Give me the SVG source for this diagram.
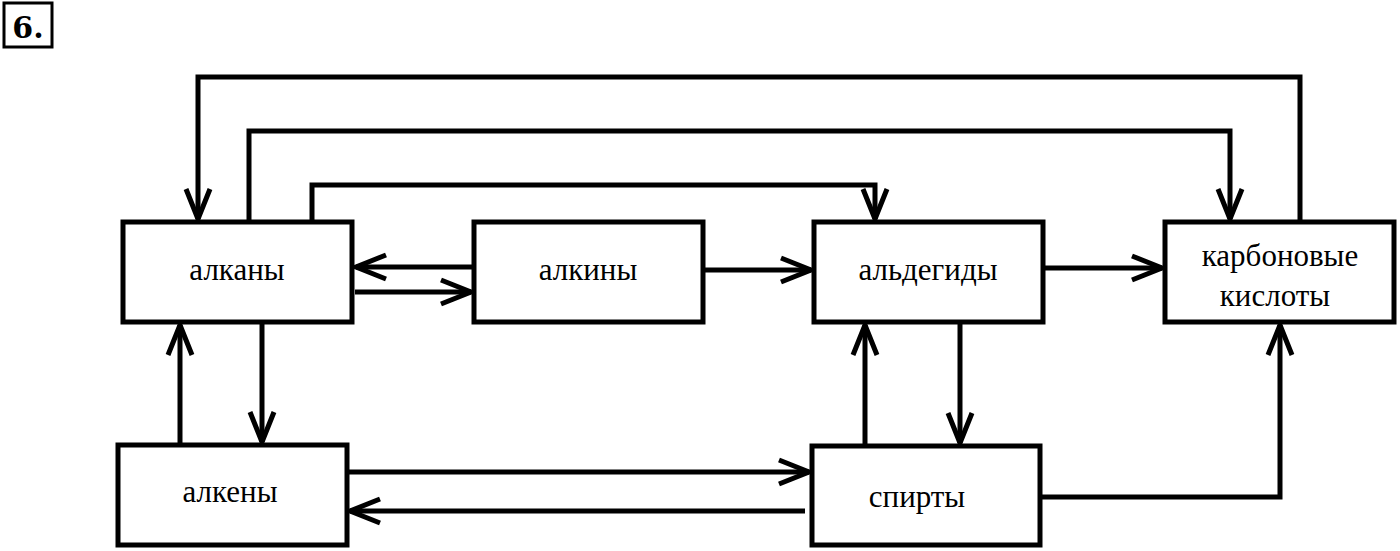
<svg xmlns="http://www.w3.org/2000/svg" width="1400" height="551" viewBox="0 0 1400 551">
<style>
.box{fill:#fff;stroke:#000;stroke-width:5}
.t{font-family:"Liberation Serif",serif;font-size:31px;text-anchor:middle;fill:#000}
.c{fill:none;stroke:#000;stroke-width:5}
</style>
<defs>
<marker id="a" markerUnits="userSpaceOnUse" markerWidth="40" markerHeight="40" refX="32" refY="15" orient="auto" viewBox="0 0 40 30">
<path d="M2,3 L32,15 L2,27" fill="none" stroke="#000" stroke-width="5"/>
</marker>
</defs>
<rect x="4" y="3" width="48" height="44" fill="#fff" stroke="#000" stroke-width="3"/>
<text x="28" y="38" font-family="'DejaVu Serif',serif" font-weight="bold" font-size="30" text-anchor="middle">6.</text>
<g id="connectors">
<path class="c" d="M1300,222 V77 H198 V219" marker-end="url(#a)"/>
<path class="c" d="M249,222 V131 H1230 V219" marker-end="url(#a)"/>
<path class="c" d="M312,222 V185 H875 V219" marker-end="url(#a)"/>
<path class="c" d="M474,267 H356" marker-end="url(#a)"/>
<path class="c" d="M355,292 H471" marker-end="url(#a)"/>
<path class="c" d="M703,270 H811" marker-end="url(#a)"/>
<path class="c" d="M1043,268 H1162" marker-end="url(#a)"/>
<path class="c" d="M262,322 V442" marker-end="url(#a)"/>
<path class="c" d="M180,445 V325" marker-end="url(#a)"/>
<path class="c" d="M347,472 H809" marker-end="url(#a)"/>
<path class="c" d="M805,511 H350" marker-end="url(#a)"/>
<path class="c" d="M865,446 V325" marker-end="url(#a)"/>
<path class="c" d="M960,322 V443" marker-end="url(#a)"/>
<path class="c" d="M1040,497 H1280 V325" marker-end="url(#a)"/>
</g>
<g id="alkany"><rect class="box" x="123" y="222" width="229" height="100"/><text class="t" x="237" y="280">алканы</text></g>
<g id="alkiny"><rect class="box" x="474" y="222" width="229" height="100"/><text class="t" x="588" y="280">алкины</text></g>
<g id="aldegidy"><rect class="box" x="814" y="222" width="229" height="100"/><text class="t" x="928" y="280">альдегиды</text></g>
<g id="karbonovye"><rect class="box" x="1165" y="222" width="229" height="100"/><text class="t" x="1280" y="266">карбоновые</text><text class="t" x="1275" y="306">кислоты</text></g>
<g id="alkeny"><rect class="box" x="118" y="445" width="229" height="100"/><text class="t" x="230" y="502">алкены</text></g>
<g id="spirty"><rect class="box" x="812" y="446" width="228" height="99"/><text class="t" x="917" y="507">спирты</text></g>
</svg>
